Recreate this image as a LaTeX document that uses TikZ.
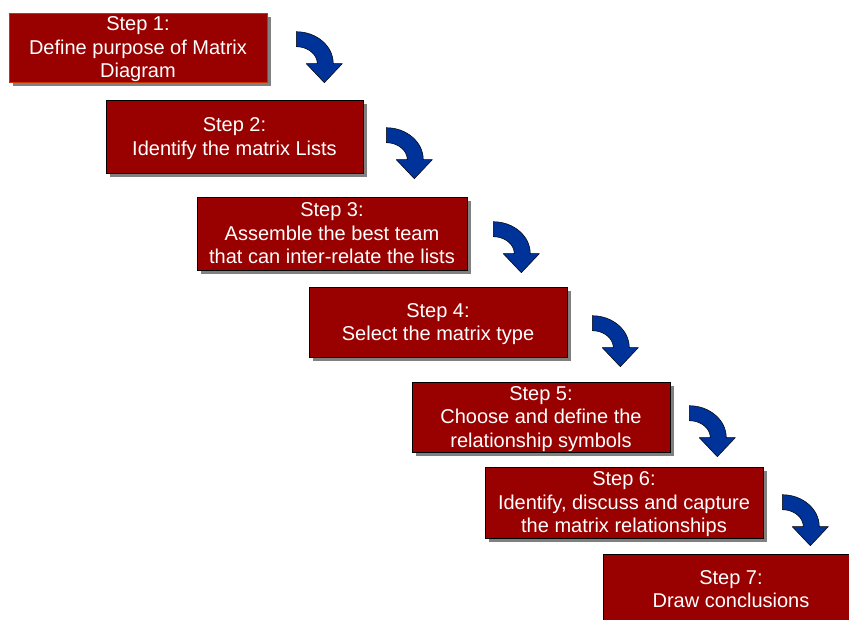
\documentclass[tikz,border=0pt]{standalone}
\usepackage{fontspec}
\setmainfont{Liberation Sans}
\usetikzlibrary{shadows}
\definecolor{stepred}{HTML}{990000}
\definecolor{bendblue}{HTML}{003399}
\definecolor{firstedge}{HTML}{CC3300}

\tikzset{
  stepbox/.style={draw=black,line width=0.6pt,fill=stepred,text=white,align=center,
    inner sep=0pt,text depth=-8pt,
    drop shadow={shadow xshift=4pt,shadow yshift=-4pt,fill=black!50,opacity=1}},
  bendarrow/.pic={
    \draw[fill=bendblue,line width=0.5pt,line join=round]
      (0,0) .. controls (20,0) and (37,14) .. (37,32) -- (46,32) -- (28,51)
      -- (10,32) -- (21,32) .. controls (21,23) and (12,15) .. (0,15) -- cycle;
  }
}

\begin{document}
\begin{tikzpicture}[x=1pt,y=-1pt,font=\fontsize{20}{23.5}\selectfont]
    \clip (0,0) rectangle (849,619);
    \fill[white] (0,0) rectangle (849,619);
    % the seven steps
    \node[stepbox,draw=firstedge,minimum width=258pt,minimum height=69pt] (s1) at (138,47.5)
      {Step 1:\\Define purpose of Matrix\\Diagram};
    \node[stepbox,minimum width=257pt,minimum height=73pt] (s2) at (234.5,136.5)
      {Step 2:\\Identify the matrix Lists};
    \node[stepbox,minimum width=270pt,minimum height=73pt] (s3) at (332,233.5)
      {Step 3:\\Assemble the best team\\that can inter-relate the lists};
    \node[stepbox,minimum width=258pt,minimum height=70pt] (s4) at (438,322)
      {Step 4:\\Select the matrix type};
    \node[stepbox,minimum width=258pt,minimum height=70pt] (s5) at (541,417)
      {Step 5:\\Choose and define the\\relationship symbols};
    \node[stepbox,minimum width=278pt,minimum height=71pt] (s6) at (624,502.5)
      {Step 6:\\Identify, discuss and capture\\the matrix relationships};
    \node[stepbox,minimum width=256pt,minimum height=70pt] (s7) at (731,589)
      {Step 7:\\Draw conclusions};
    % bent arrows between them
    \pic at ([shift={(29,19)}]s1.north east) {bendarrow};
    \pic at ([shift={(23,28)}]s2.north east) {bendarrow};
    \pic at ([shift={(26,25)}]s3.north east) {bendarrow};
    \pic at ([shift={(25,29)}]s4.north east) {bendarrow};
    \pic at ([shift={(19,24)}]s5.north east) {bendarrow};
    \pic at ([shift={(19,28)}]s6.north east) {bendarrow};
  \end{tikzpicture}
\end{document}
